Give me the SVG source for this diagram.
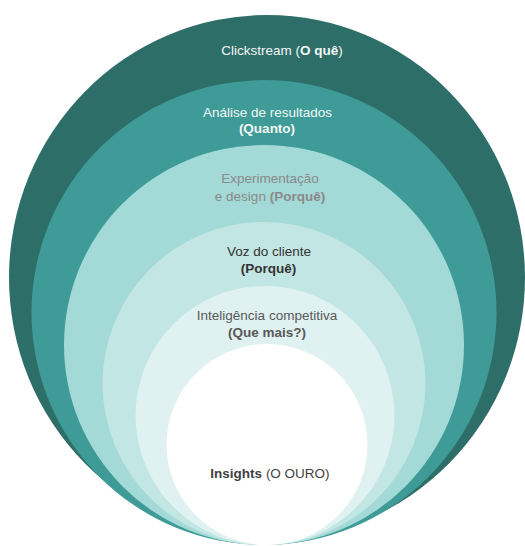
<svg xmlns="http://www.w3.org/2000/svg" width="525" height="546" viewBox="0 0 525 546">
<style>
text{font-family:"Liberation Sans",Arial,sans-serif;font-size:13.5px;text-anchor:middle}
.b{font-weight:bold}
.w{fill:#f2f7f6}
.g{fill:#8a8a8a}
.d{fill:#333333}
.m{fill:#595959}
.k{fill:#3f3f3f}
</style>
<rect width="525" height="546" fill="#ffffff"/>
<g id="clickstream">
<ellipse cx="267" cy="277.5" rx="258" ry="262.5" fill="#2e6e69"/>
<text class="w" x="282" y="55">Clickstream (<tspan class="b">O quê</tspan>)</text>
</g>
<g id="analise">
<circle cx="264" cy="312.5" r="232.5" fill="#3e9b97"/>
<text class="w" x="267.5" y="117">Análise de resultados</text>
<text class="w b" x="267" y="133">(Quanto)</text>
</g>
<g id="experimentacao">
<circle cx="264" cy="345" r="200" fill="#a3d9d6"/>
<text class="g" x="270" y="183">Experimentação</text>
<text class="g" x="270" y="201">e design <tspan class="b">(Porquê)</tspan></text>
</g>
<g id="voz">
<circle cx="264" cy="383.5" r="161.5" fill="#c2e6e3"/>
<text class="d" x="269" y="256">Voz do cliente</text>
<text class="d b" x="268.5" y="273">(Porquê)</text>
</g>
<g id="inteligencia">
<circle cx="265" cy="415.5" r="129.5" fill="#dff1f0"/>
<text class="m" x="267" y="320">Inteligência competitiva</text>
<text class="m b" x="267" y="337">(Que mais?)</text>
</g>
<g id="insights">
<circle cx="267" cy="444.5" r="100.5" fill="#ffffff"/>
<text class="k" x="270" y="478"><tspan class="b">Insights</tspan> (O OURO)</text>
</g>
<g id="connectors"/>
</svg>
